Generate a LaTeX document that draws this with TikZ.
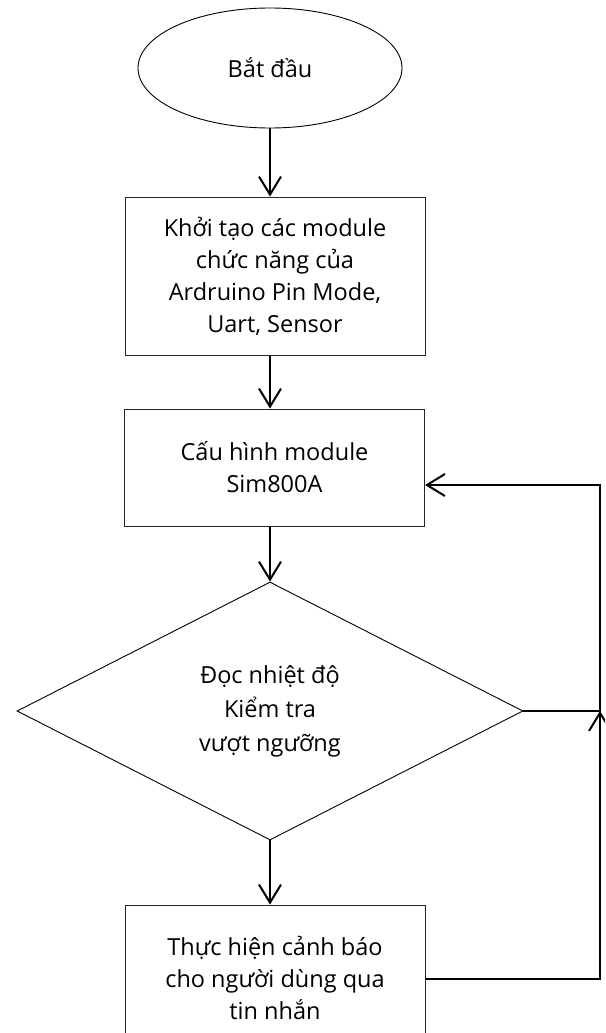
\documentclass[tikz,border=0pt]{standalone}
\usepackage{fontspec}
\setmainfont{Open Sans}
\usetikzlibrary{shapes.geometric,arrows.meta}
\begin{document}
\begin{tikzpicture}[x=1pt,y=-1pt,
  txt/.style={align=center,font=\fontsize{23.5}{32}\selectfont},
  procbox/.style={txt,draw=black!85,line width=1pt,rectangle,minimum width=300pt,inner sep=0pt},
  startnode/.style={txt,draw,line width=0.9pt,ellipse,minimum width=264pt,minimum height=120pt,inner sep=0pt},
  decnode/.style={txt,draw,line width=0.9pt,diamond,minimum width=506pt,minimum height=258pt,inner sep=0pt},
  flow/.style={line width=2pt,-{Straight Barb[length=18pt,width=22pt,line width=2pt]}},
  loopline/.style={line width=2.3pt},
  looparrow/.style={loopline,-{Straight Barb[length=18pt,width=22pt,line width=2pt]}}
]
\useasboundingbox (0,0) rectangle (605,1033);
\clip (0,0) rectangle (605,1033);

\node[startnode] (start) at (270,68) {Bắt đầu};
\node[procbox,minimum height=158pt] (init) at (275,276)
  {Khởi tạo các module\\chức năng của\\Ardruino Pin Mode,\\Uart, Sensor};
\node[procbox,minimum height=117pt] (sim) at (274.5,467.5)
  {Cấu hình module\\Sim800A};
\node[decnode,font=\fontsize{23.5}{34}\selectfont] (dec) at (270,711)
  {Đọc nhiệt độ\\Kiểm tra\\vượt ngưỡng};
\node[procbox,minimum height=146pt] (warn) at (275,978)
  {Thực hiện cảnh báo\\cho người dùng qua\\tin nhắn};

\coordinate (c1) at (600,711);
\coordinate (c2) at (600,485);
\coordinate (c3) at (600,979);

\draw[flow] (start.south) -- (start.south |- init.north);
\draw[flow] (start.south |- init.south) -- (start.south |- sim.north);
\draw[flow] (start.south |- sim.south) -- (dec.north);
\draw[flow] (dec.south) -- (dec.south |- warn.north);

\draw[looparrow] (dec.east) -- (c1) -- (c2) -- (c2 -| sim.east);
\draw[looparrow] (c3 -| warn.east) -- (c3) -- (c1);
\end{tikzpicture}
\end{document}
